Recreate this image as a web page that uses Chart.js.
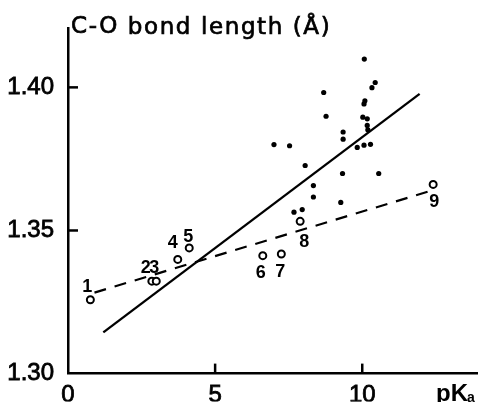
<!DOCTYPE html>
<html>
<head>
<meta charset="utf-8">
<script src="https://cdn.jsdelivr.net/npm/chart.js@4"></script>
<style>
  html, body { margin: 0; padding: 0; background: #fff; }
  #wrap { width: 483px; height: 402px; }
</style>
</head>
<body>
<div id="wrap"><canvas id="chart" width="483" height="402"></canvas></div>
<script>
// numbered compounds (open circles)
const openX = [0.76, 2.85, 3.0, 3.73, 4.12, 6.62, 7.25, 7.89, 12.41];
const openY = [1.3258, 1.3323, 1.3323, 1.3399, 1.3439, 1.3412, 1.3418, 1.3532, 1.3661];
const openNames = ['1', '2', '3', '4', '5', '6', '7', '8', '9'];

// other compounds (filled dots)
const dotX = [10.07, 10.44, 10.33, 8.69, 10.09, 10.06, 8.77, 10.02, 10.17, 10.17, 10.19, 9.35, 9.35,
  7.00, 7.53, 9.83, 10.06, 10.28, 8.06, 9.33, 10.56, 8.34, 8.34, 9.27, 7.68, 7.96];
const dotY = [1.4099, 1.4017, 1.3999, 1.3982, 1.3953, 1.3942, 1.3899, 1.3896, 1.3890, 1.3867, 1.3852, 1.3844, 1.3819,
  1.3800, 1.3796, 1.3790, 1.3798, 1.3801, 1.3727, 1.3699, 1.3699, 1.3657, 1.3617, 1.3598, 1.3564, 1.3573];

// fitted lines
const solidX = [1.2, 11.95];
const solidY = [1.3144, 1.3977];
const dashX = [0.9, 12.25];
const dashY = [1.3283, 1.3636];

const xTicks = [0, 5, 10];
const yTicks = [1.30, 1.35, 1.40];

// label nudges for the numbers, in pixels
const labelDx = [-3, -6, -2, -5, -1, -2, -1, 4, 1];
const labelDy = [-13, -13, -13, -16, -11, 17, 18, 21, 18];

const toPts = (xs, ys) => xs.map((x, i) => ({ x: x, y: ys[i] }));
const tickFont = { family: 'Liberation Sans', size: 24, weight: 'normal' };

const extras = {
  id: 'extras',
  afterDatasetsDraw(chart) {
    const ctx = chart.ctx;
    const xs = chart.scales.x, ys = chart.scales.y;
    const area = chart.chartArea;
    ctx.save();
    ctx.strokeStyle = '#000';
    ctx.lineWidth = 2.5;
    // inward ticks
    yTicks.forEach(v => {
      if (v === yTicks[0]) return;
      const py = ys.getPixelForValue(v);
      ctx.beginPath(); ctx.moveTo(area.left, py); ctx.lineTo(area.left + 10, py); ctx.stroke();
    });
    xTicks.forEach(v => {
      if (v === xTicks[0]) return;
      const px = xs.getPixelForValue(v);
      ctx.beginPath(); ctx.moveTo(px, area.bottom); ctx.lineTo(px, area.bottom - 10); ctx.stroke();
    });

    ctx.fillStyle = '#000';
    // y axis title (slightly stroked to get the heavier print look)
    ctx.font = '23px "DejaVu Sans"';
    ctx.letterSpacing = '1.6px';
    ctx.textAlign = 'left';
    ctx.textBaseline = 'alphabetic';
    ctx.lineWidth = 0.7;
    const head = 'C-O';
    ctx.fillText(head, area.left + 3, 33);
    ctx.strokeText(head, area.left + 3, 33);
    const w = ctx.measureText(head + ' ').width;
    ctx.fillText('bond length (Å)', area.left + 3 + w, 34);
    ctx.strokeText('bond length (Å)', area.left + 3 + w, 34);
    ctx.letterSpacing = '0px';

    // x axis title
    ctx.font = 'bold 24px "Liberation Sans"';
    ctx.textBaseline = 'middle';
    ctx.fillText('pK', 436, 394);
    ctx.font = 'bold 14px "Liberation Sans"';
    ctx.fillText('a', 467, 398);

    // compound numbers
    const meta = chart.getDatasetMeta(0);
    ctx.font = 'bold 18px "Liberation Sans"';
    ctx.textAlign = 'center';
    meta.data.forEach((pt, i) => {
      ctx.fillText(openNames[i], pt.x + labelDx[i], pt.y + labelDy[i]);
    });
    ctx.restore();
  }
};

new Chart(document.getElementById('chart'), {
  type: 'scatter',
  data: {
    datasets: [
      {
        label: 'numbered',
        data: toPts(openX, openY),
        pointStyle: 'circle',
        pointRadius: 3.5,
        pointBorderWidth: 2,
        pointBorderColor: '#000',
        pointBackgroundColor: '#fff'
      },
      {
        label: 'others',
        data: toPts(dotX, dotY),
        pointRadius: 2.6,
        pointBorderWidth: 0,
        pointBackgroundColor: '#000'
      },
      {
        label: 'solid fit',
        data: toPts(solidX, solidY),
        showLine: true,
        pointRadius: 0,
        borderColor: '#000',
        borderWidth: 2.3
      },
      {
        label: 'dashed fit',
        data: toPts(dashX, dashY),
        showLine: true,
        pointRadius: 0,
        borderColor: '#000',
        borderWidth: 2.2,
        borderDash: [12, 9]
      }
    ]
  },
  options: {
    responsive: false,
    animation: false,
    layout: { padding: { top: 23, right: 3, left: 0, bottom: 0 } },
    plugins: { legend: { display: false }, tooltip: { enabled: false } },
    scales: {
      x: {
        type: 'linear',
        min: 0,
        max: 13.9,
        afterBuildTicks: s => { s.ticks = xTicks.map(v => ({ value: v })); },
        afterFit: s => { s.height = 28; },
        ticks: { color: '#000', font: tickFont, padding: 7, maxRotation: 0, autoSkip: false,
          textStrokeColor: '#000', textStrokeWidth: 0.8 },
        grid: { drawOnChartArea: false, drawTicks: false },
        border: { color: '#000', width: 2.5 }
      },
      y: {
        type: 'linear',
        min: 1.30,
        max: 1.4206,
        afterBuildTicks: s => { s.ticks = yTicks.map(v => ({ value: v })); },
        afterFit: s => { s.width = 68; },
        ticks: { color: '#000', font: tickFont, padding: 14, autoSkip: false, callback: v => v.toFixed(2),
          textStrokeColor: '#000', textStrokeWidth: 0.8 },
        grid: { drawOnChartArea: false, drawTicks: false },
        border: { color: '#000', width: 2.5 }
      }
    }
  },
  plugins: [extras]
});
</script>
</body>
</html>
